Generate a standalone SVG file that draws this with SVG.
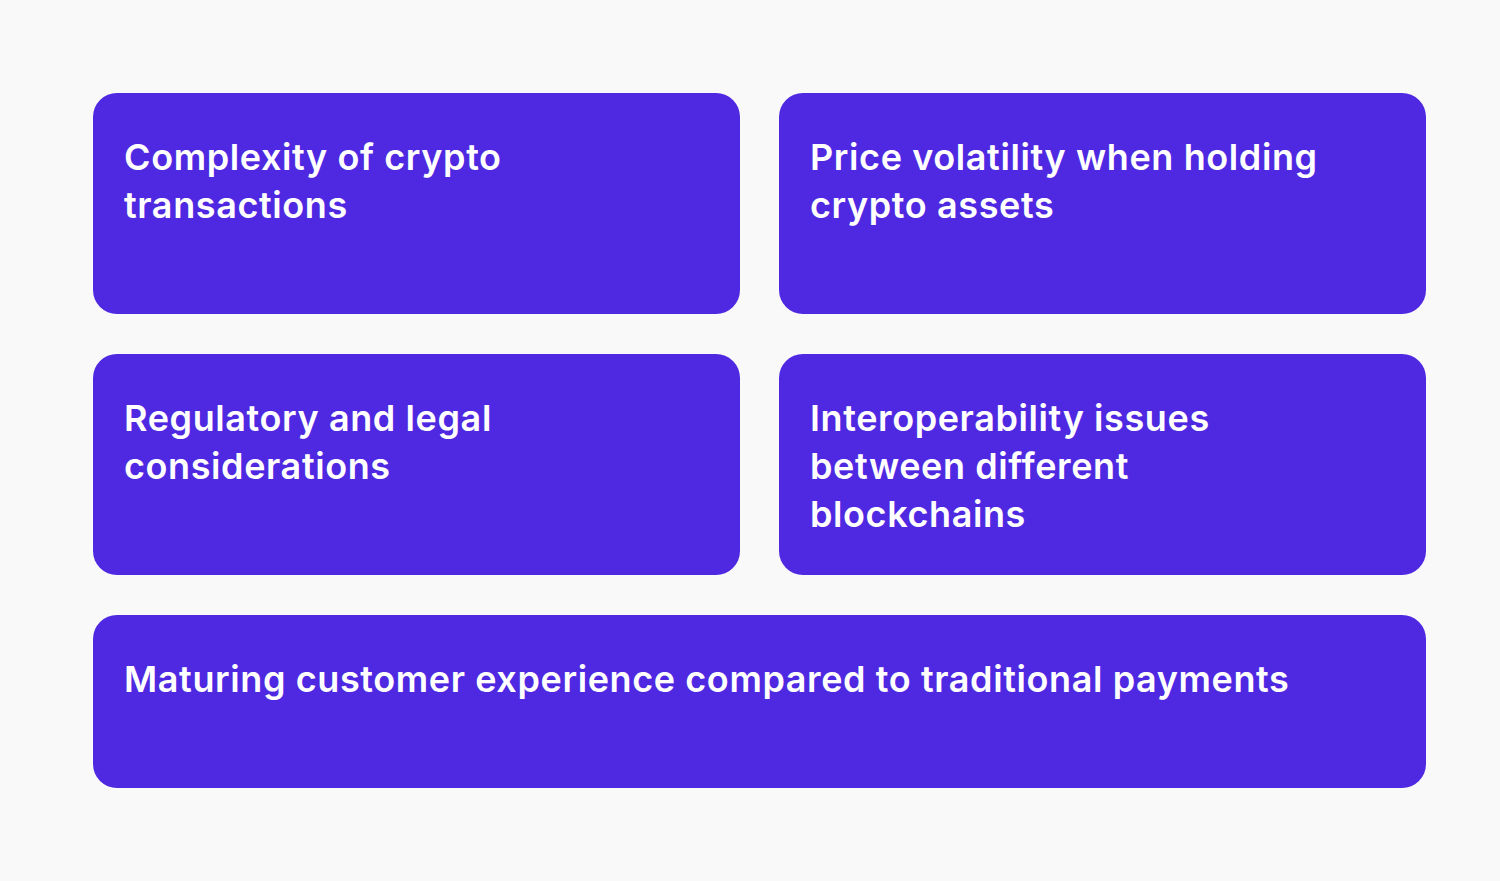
<svg xmlns="http://www.w3.org/2000/svg" width="1500" height="881" viewBox="0 0 1500 881">
<style>
.box{fill:#4F28E2}
.t{font-family:Inter,"Noto Sans",sans-serif;font-weight:600;font-size:36px;fill:#fff;letter-spacing:0.6px}
</style>
<rect width="1500" height="881" fill="#F9F9F9"/>
<g id="n1"><rect class="box" x="93" y="93" width="647" height="221" rx="24"/><text class="t" x="124" y="170">Complexity of crypto<tspan x="124" dy="48">transactions</tspan></text></g>
<g id="n2"><rect class="box" x="779" y="93" width="647" height="221" rx="24"/><text class="t" x="810" y="170">Price volatility when holding<tspan x="810" dy="48">crypto assets</tspan></text></g>
<g id="n3"><rect class="box" x="93" y="354" width="647" height="221" rx="24"/><text class="t" x="124" y="431">Regulatory and legal<tspan x="124" dy="48">considerations</tspan></text></g>
<g id="n4"><rect class="box" x="779" y="354" width="647" height="221" rx="24"/><text class="t" x="810" y="431">Interoperability issues<tspan x="810" dy="48">between different</tspan><tspan x="810" dy="48">blockchains</tspan></text></g>
<g id="n5"><rect class="box" x="93" y="615" width="1333" height="173" rx="24"/><text class="t" x="124" y="692">Maturing customer experience compared to traditional payments</text></g>
<g id="connectors"/>
</svg>
